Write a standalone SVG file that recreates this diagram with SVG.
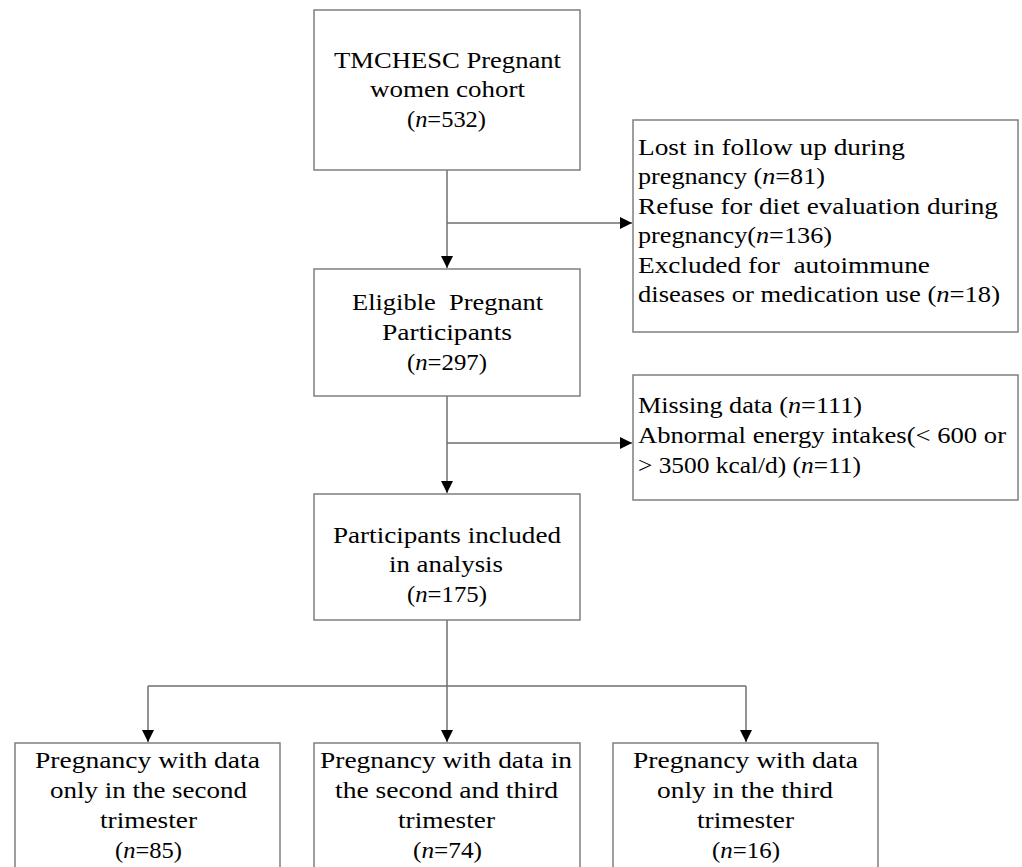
<svg xmlns="http://www.w3.org/2000/svg" width="1022" height="867" viewBox="0 0 1022 867">
<defs>
<style>
.box{fill:#fff;stroke:#7f7f7f;stroke-width:1.5}
.t{font-family:"Liberation Serif","Times New Roman",serif;font-size:23px;fill:#000}
.i{font-style:italic}
.ln{fill:none;stroke:#6f6f6f;stroke-width:1.5}
</style>
<marker id="ah" viewBox="0 0 12 12" refX="12" refY="6" markerWidth="12" markerHeight="12" markerUnits="userSpaceOnUse" orient="auto">
<path d="M0,0 L12,6 L0,12 Z" fill="#000"/>
</marker>
</defs>
<rect width="1022" height="867" fill="#fff"/>
<g id="connectors">
<path class="ln" d="M447,170 V268" marker-end="url(#ah)"/>
<path class="ln" d="M447,223 H632" marker-end="url(#ah)"/>
<path class="ln" d="M447,396 V493" marker-end="url(#ah)"/>
<path class="ln" d="M447,443 H632" marker-end="url(#ah)"/>
<path class="ln" d="M447,620 V686 M148,686 H746"/>
<path class="ln" d="M148,686 V742" marker-end="url(#ah)"/>
<path class="ln" d="M447,686 V742" marker-end="url(#ah)"/>
<path class="ln" d="M746,686 V742" marker-end="url(#ah)"/>
</g>
<g id="n1">
<rect class="box" x="314" y="10" width="266" height="160"/>
<text class="t" x="334" y="68" textLength="227" lengthAdjust="spacingAndGlyphs">TMCHESC Pregnant</text>
<text class="t" x="370" y="97" textLength="155" lengthAdjust="spacingAndGlyphs">women cohort</text>
<text class="t" x="407" y="127" textLength="79" lengthAdjust="spacingAndGlyphs">(<tspan class="i">n</tspan>=532)</text>
</g>
<g id="ex1">
<rect class="box" x="633" y="120" width="385" height="212"/>
<text class="t" x="638" y="155" textLength="267" lengthAdjust="spacingAndGlyphs">Lost in follow up during</text>
<text class="t" x="638" y="184" textLength="187" lengthAdjust="spacingAndGlyphs">pregnancy (<tspan class="i">n</tspan>=81)</text>
<text class="t" x="638" y="214" textLength="360" lengthAdjust="spacingAndGlyphs">Refuse for diet evaluation during</text>
<text class="t" x="638" y="243" textLength="194" lengthAdjust="spacingAndGlyphs">pregnancy(<tspan class="i">n</tspan>=136)</text>
<text class="t" x="638" y="273" textLength="292" lengthAdjust="spacingAndGlyphs" xml:space="preserve">Excluded for  autoimmune</text>
<text class="t" x="638" y="302" textLength="362" lengthAdjust="spacingAndGlyphs">diseases or medication use (<tspan class="i">n</tspan>=18)</text>
</g>
<g id="n2">
<rect class="box" x="314" y="269" width="266" height="127"/>
<text class="t" x="352" y="310" textLength="191" lengthAdjust="spacingAndGlyphs" xml:space="preserve">Eligible  Pregnant</text>
<text class="t" x="382" y="340" textLength="130" lengthAdjust="spacingAndGlyphs">Participants</text>
<text class="t" x="407" y="370" textLength="80" lengthAdjust="spacingAndGlyphs">(<tspan class="i">n</tspan>=297)</text>
</g>
<g id="ex2">
<rect class="box" x="633" y="375" width="385" height="125"/>
<text class="t" x="638" y="413" textLength="224" lengthAdjust="spacingAndGlyphs">Missing data (<tspan class="i">n</tspan>=111)</text>
<text class="t" x="638" y="443" textLength="368" lengthAdjust="spacingAndGlyphs">Abnormal energy intakes(&lt; 600 or</text>
<text class="t" x="638" y="473" textLength="223" lengthAdjust="spacingAndGlyphs">&gt; 3500 kcal/d) (<tspan class="i">n</tspan>=11)</text>
</g>
<g id="n3">
<rect class="box" x="314" y="494" width="266" height="126"/>
<text class="t" x="333" y="543" textLength="228" lengthAdjust="spacingAndGlyphs">Participants included</text>
<text class="t" x="389" y="572" textLength="114" lengthAdjust="spacingAndGlyphs">in analysis</text>
<text class="t" x="407" y="602" textLength="80" lengthAdjust="spacingAndGlyphs">(<tspan class="i">n</tspan>=175)</text>
</g>
<g id="b1">
<rect class="box" x="15" y="743" width="265" height="140"/>
<text class="t" x="35" y="768" textLength="225" lengthAdjust="spacingAndGlyphs">Pregnancy with data</text>
<text class="t" x="50" y="798" textLength="197" lengthAdjust="spacingAndGlyphs">only in the second</text>
<text class="t" x="100" y="828" textLength="97" lengthAdjust="spacingAndGlyphs">trimester</text>
<text class="t" x="115" y="858" textLength="67" lengthAdjust="spacingAndGlyphs">(<tspan class="i">n</tspan>=85)</text>
</g>
<g id="b2">
<rect class="box" x="314" y="743" width="266" height="140"/>
<text class="t" x="320" y="768" textLength="252" lengthAdjust="spacingAndGlyphs">Pregnancy with data in</text>
<text class="t" x="335" y="798" textLength="223" lengthAdjust="spacingAndGlyphs">the second and third</text>
<text class="t" x="398" y="828" textLength="97" lengthAdjust="spacingAndGlyphs">trimester</text>
<text class="t" x="413" y="858" textLength="69" lengthAdjust="spacingAndGlyphs">(<tspan class="i">n</tspan>=74)</text>
</g>
<g id="b3">
<rect class="box" x="613" y="743" width="265" height="140"/>
<text class="t" x="633" y="768" textLength="225" lengthAdjust="spacingAndGlyphs">Pregnancy with data</text>
<text class="t" x="657" y="798" textLength="176" lengthAdjust="spacingAndGlyphs">only in the third</text>
<text class="t" x="697" y="828" textLength="97" lengthAdjust="spacingAndGlyphs">trimester</text>
<text class="t" x="712" y="858" textLength="68" lengthAdjust="spacingAndGlyphs">(<tspan class="i">n</tspan>=16)</text>
</g>
</svg>
